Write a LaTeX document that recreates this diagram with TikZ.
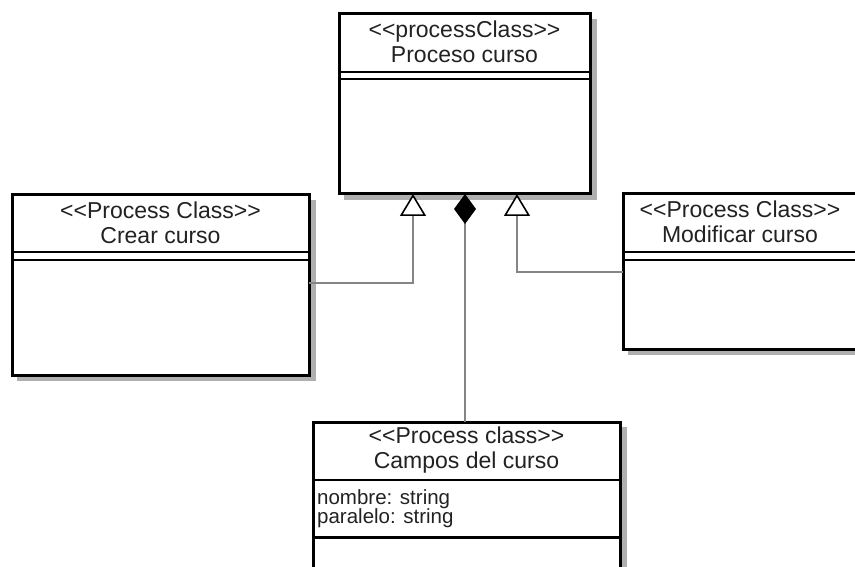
\documentclass[tikz,border=0pt]{standalone}
\usepackage{fontspec}
\setmainfont{Liberation Sans}
\usetikzlibrary{arrows.meta}
\definecolor{txt}{HTML}{222222}
\definecolor{conn}{HTML}{858585}
\definecolor{shade}{HTML}{AFAFAF}
\newcommand{\stL}{<\kern0pt<}
\newcommand{\stR}{>\kern0pt>}
\tikzset{
  classbox/.style={draw=black, line width=3pt, fill=white, rectangle, inner sep=0pt, outer sep=0pt, anchor=north west},
  shadowbox/.style={fill=shade, draw=none},
  divider/.style={draw=black, line width=2.6pt},
  head/.style={align=center, text=txt, font=\fontsize{23}{25.5}\selectfont, inner sep=0pt},
  attr/.style={align=left, text=txt, font=\fontsize{20.5}{19.5}\selectfont, inner sep=0pt, anchor=base west},
  conline/.style={draw=conn, line width=2pt},
  gen/.style={conline, -{Triangle[length=22pt,width=26pt,fill=white,color=black,line width=1.6pt]}},
  comp/.style={conline, -{Diamond[length=30pt,width=22pt,fill=black,color=black]}}
}
\begin{document}
\begin{tikzpicture}[x=1pt,y=-1pt]
\useasboundingbox (0,0) rectangle (855,567);
\fill[white] (0,0) rectangle (855,567);
% shadows
\fill[shadowbox] (344,19) rectangle (597,200);
\fill[shadowbox] (17,200) rectangle (316,381);
\fill[shadowbox] (628,199) rectangle (863,355);
\fill[shadowbox] (318,427) rectangle (627,575);
% boxes
\node[classbox, minimum width=251pt, minimum height=180pt] (top) at (339,14) {};
\node[classbox, minimum width=297pt, minimum height=180pt] (crear) at (12,195) {};
\node[classbox, minimum width=235pt, minimum height=155pt] (modif) at (623,194) {};
\node[classbox, minimum width=307pt, minimum height=148pt] (campos) at (313,422) {};
% dividers
\draw[divider] (339,72) -- (590,72); \draw[divider] (339,79) -- (590,79);
\draw[divider] (12,252) -- (309,252); \draw[divider] (12,260) -- (309,260);
\draw[divider] (623,252) -- (858,252); \draw[divider] (623,260) -- (858,260);
\draw[divider] (313,480) -- (620,480);
\draw[divider, line width=3pt] (313,537) -- (620,537);
% texts
\node[head] (ttop) at (464.5,42) {\stL processClass\stR\\Proceso curso};
\node[head] (tcrear) at (160.5,223) {\stL Process Class\stR\\Crear curso};
\node[head] (tmodif) at (740,222) {\stL Process Class\stR\\Modificar curso};
\node[head] (tcampos) at (466.5,450) {\stL Process class\stR\\Campos del curso};
\node[attr] (a1) at (317,504) {nombre: string};
\node[attr] (a2) at (317,523) {paralelo: string};
% connectors
\coordinate (c1) at (crear.east |- 0,283);
\coordinate (c2) at (modif.west |- 0,272);
\draw[gen] (c1) -| (top.south -| 413,0);
\draw[gen] (c2) -| (top.south -| 517,0);
\draw[comp] (campos.north -| 465,0) -- (top.south -| 465,0);
\end{tikzpicture}
\end{document}
